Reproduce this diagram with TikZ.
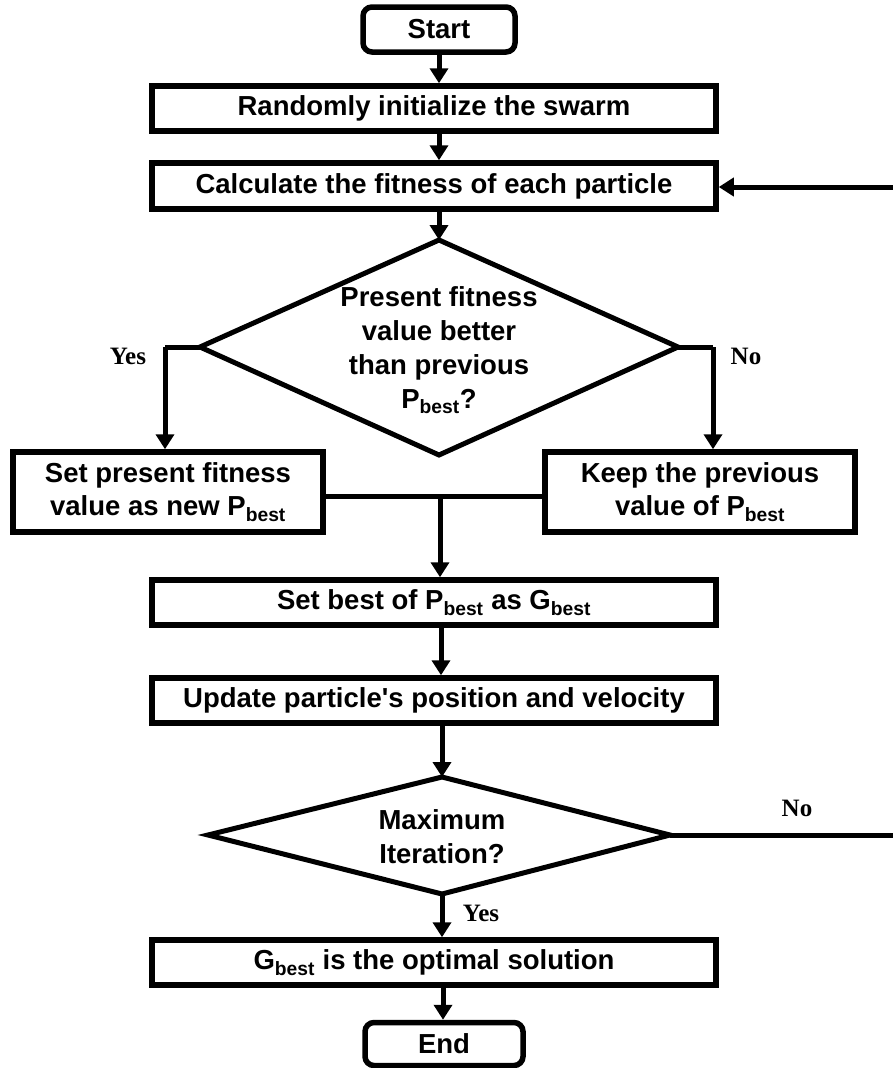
\documentclass[tikz,border=0pt]{standalone}
\usepackage{fontspec}
\setmainfont{Liberation Sans}
\newfontfamily\labelfont{Liberation Serif}
\usetikzlibrary{arrows.meta,calc}
\begin{document}
\begin{tikzpicture}[x=1pt,y=-1pt,
  box/.style={draw, rectangle, line width=5.5pt, font=\fontsize{27.5}{33}\selectfont\bfseries, align=center, inner sep=0pt},
  term/.style={box, rounded corners=9pt},
  dtext/.style={font=\fontsize{27.5}{34}\selectfont\bfseries, align=center, inner sep=0pt},
  dia/.style={line width=5pt, line join=miter},
  flow/.style={-{Triangle[length=15pt,width=18pt]}, line width=5pt},
  seg/.style={line width=5pt},
  lbl/.style={font=\labelfont\fontsize{25}{30}\selectfont\bfseries, inner sep=0pt}
]
\useasboundingbox (0,0) rectangle (893,1068);
% terminals and boxes
\node[term, minimum width=152pt, minimum height=45pt] (start) at (439,29.5) {Start};
\node[box, minimum width=564pt, minimum height=45pt] (init) at (434,108.5) {Randomly initialize the swarm};
\node[box, minimum width=564pt, minimum height=46pt] (calc) at (434,186) {Calculate the fitness of each particle};
% diamond 1
\coordinate (d1t) at (439,240);
\coordinate (d1b) at (439,455);
\coordinate (d1l) at (200,347);
\coordinate (d1r) at (678,347);
\draw[dia] (d1t) -- (d1r) -- (d1b) -- (d1l) -- cycle;
\node[dtext] (d1) at (439,350) {Present fitness\\value better\\than previous\\P\textsubscript{best}?};
\node[box, minimum width=310pt, minimum height=80pt] (setp) at (168,492) {Set present fitness\\value as new P\textsubscript{best}};
\node[box, minimum width=310pt, minimum height=80pt] (keep) at (700,492) {Keep the previous\\value of P\textsubscript{best}};
\node[box, minimum width=564pt, minimum height=45pt] (gb) at (434,602.5) {Set best of P\textsubscript{best} as G\textsubscript{best}};
\node[box, minimum width=564pt, minimum height=45pt] (upd) at (434,700.5) {Update particle\textquotesingle s position and velocity};
% diamond 2
\coordinate (d2t) at (442,777);
\coordinate (d2b) at (442,894);
\coordinate (d2l) at (208,835);
\coordinate (d2r) at (670,835);
\draw[dia] (d2t) -- (d2r) -- (d2b) -- (d2l) -- cycle;
\node[dtext] (d2) at (442,837) {Maximum\\Iteration?};
\node[box, minimum width=564pt, minimum height=45pt] (opt) at (434,962.5) {G\textsubscript{best} is the optimal solution};
\node[term, minimum width=158pt, minimum height=43pt] (end) at (444,1044) {End};
% connectors
\coordinate (fbin) at (893,187);
\coordinate (fbout) at (893,835);
\coordinate (yb) at (165,347);
\coordinate (nb) at (713,347);
\coordinate (jn) at (440,496);
\draw[flow] (start.south -| 439,0) -- (init.north -| 439,0);
\draw[flow] (init.south -| 439,0) -- (calc.north -| 439,0);
\draw[flow] (calc.south -| 439,0) -- (d1t);
\draw[flow] (fbin) -- (calc.east |- fbin);
\draw[seg] (d1l) -- (yb);
\draw[flow] (yb) -- (setp.north -| yb);
\draw[seg] (d1r) -- (nb);
\draw[flow] (nb) -- (keep.north -| nb);
\draw[seg] (setp.east |- jn) -- (keep.west |- jn);
\draw[flow] (jn) -- (gb.north -| jn);
\draw[flow] (gb.south -| 441,0) -- (upd.north -| 441,0);
\draw[flow] (upd.south -| 442,0) -- (d2t);
\draw[seg] (d2r) -- (fbout);
\draw[flow] (d2b) -- (opt.north -| d2b);
\draw[flow] (opt.south -| 443,0) -- (end.north -| 443,0);
% labels
\node[lbl] (yes1) at (128,356) {Yes};
\node[lbl] (no1) at (746,356) {No};
\node[lbl] (no2) at (797,808) {No};
\node[lbl] (yes2) at (481,913) {Yes};
\end{tikzpicture}
\end{document}
